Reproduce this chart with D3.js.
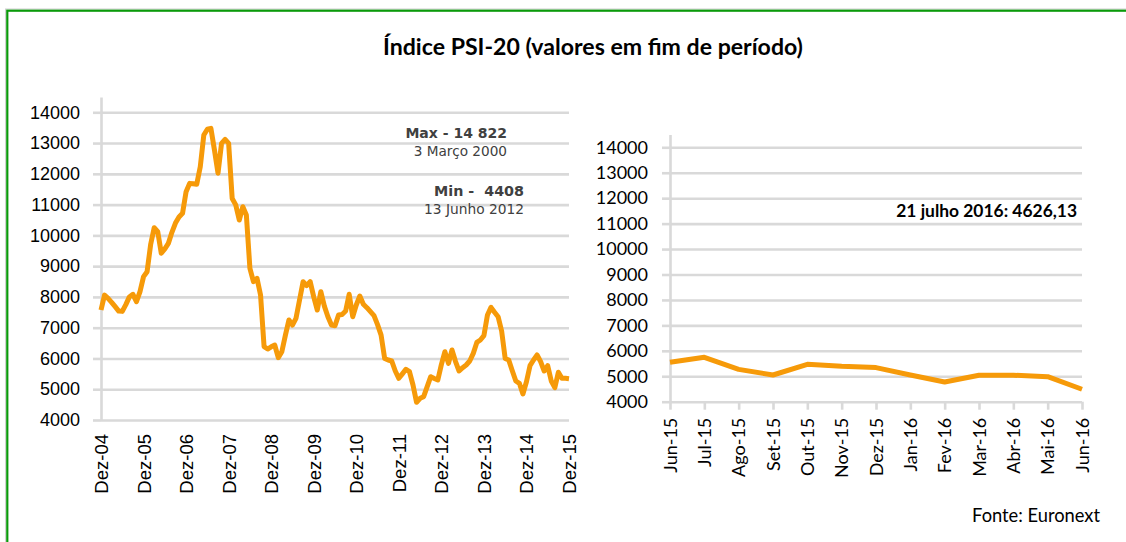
<!DOCTYPE html>
<html><head><meta charset="utf-8">
<script src="https://cdn.jsdelivr.net/npm/d3@7"></script>
<style>body{margin:0;background:#fff}svg{display:block}</style>
</head><body><svg id="c" width="1126" height="542"></svg>
<script>
// ---------- DATA ----------
// Left chart: monthly end-of-period values, Dez-04 .. Dez-15
const leftValues = [7575,8060,7955,7825,7683,7540,7530,7750,8000,8085,7845,8170,
  8660,8820,9700,10250,10120,9420,9560,9740,10100,10400,10600,10720,
  11420,11690,11680,11660,12230,13260,13450,13480,12775,12020,12990,13120,
  12990,11200,10990,10500,10930,10660,8930,8495,8605,8062,6385,6307,
  6380,6437,6025,6220,6750,7250,7087,7305,7900,8495,8365,8495,
  8000,7575,8170,7700,7357,7087,7065,7412,7430,7542,8085,7357,
  7737,8030,7760,7650,7520,7390,7100,6760,6000,5950,5917,5592,
  5355,5500,5647,5570,5137,4575,4705,4757,5082,5407,5350,5300,
  5800,6220,5840,6275,5900,5592,5700,5787,5917,6165,6522,6600,
  6740,7412,7660,7500,7357,6892,6000,5950,5600,5267,5192,4845,
  5245,5765,5950,6112,5895,5592,5765,5267,5050,5550,5355,5355,5340];
const leftTickLabels = ["Dez-04","Dez-05","Dez-06","Dez-07","Dez-08","Dez-09","Dez-10","Dez-11","Dez-12","Dez-13","Dez-14","Dez-15"];
// Right chart
const rightMonths = ["Jun-15","Jul-15","Ago-15","Set-15","Out-15","Nov-15","Dez-15","Jan-16","Fev-16","Mar-16","Abr-16","Mai-16","Jun-16"];
const rightValues = [5550,5745,5270,5050,5470,5390,5340,5050,4775,5040,5040,4985,4490];
const yTicks = [4000,5000,6000,7000,8000,9000,10000,11000,12000,13000,14000];
const yMax = 14500;
const titleText = "Índice PSI-20 (valores em fim de período)";
const maxLabel = "Max - 14 822", maxDate = "3 Março 2000";
const minLabel = "Min -  4408", minDate = "13 Junho 2012";
const lastLabel = "21 julho 2016: 4626,13";
const sourceText = "Fonte: Euronext";

// ---------- DRAW ----------
const svg = d3.select("#c");
const GRID = "#d9d9d9", LINE = "#f69a09", GREEN = "#0a9a0a";
const fmt = d3.format("d");
function fit(sel, w){ const l = sel.node().getComputedTextLength(); sel.attr("font-size", parseFloat(sel.attr("font-size"))*w/l); return sel; }

// frame
svg.append("rect").attr("x",5.5).attr("y",9).attr("width",1140).attr("height",560)
  .attr("fill","none").attr("stroke","#d0d0d0").attr("stroke-width",1);
svg.append("rect").attr("x",7.3).attr("y",10.7).attr("width",1140).attr("height",560)
  .attr("fill","none").attr("stroke",GREEN).attr("stroke-width",2.2);

// title
fit(svg.append("text").attr("x",593).attr("y",55).attr("text-anchor","middle")
  .attr("font-family","Lato, 'Open Sans', sans-serif").attr("font-weight","bold")
  .attr("font-size",20).attr("fill","#000").text(titleText), 420);

// ---- Left chart ----
const nL = leftValues.length - 1;
const xL = d3.scaleLinear().domain([0, nL]).range([101, 569]);
const yL = d3.scaleLinear().domain([4000, yMax]).range([420, 420 - 10.5*30.77]);

const gGridL = svg.append("g").attr("transform","translate(101,0)")
  .call(d3.axisLeft(yL).tickValues(yTicks).tickSize(-(569-101)).tickSizeOuter(0).tickFormat(""));
gGridL.selectAll("line").attr("stroke",GRID).attr("stroke-width",2.6);
gGridL.select(".domain").remove();

const gYL = svg.append("g").attr("transform","translate(101,0)")
  .call(d3.axisLeft(yL).tickValues(yTicks).tickFormat(fmt).tickSize(8).tickSizeOuter(0).tickPadding(13));
gYL.selectAll("line").attr("stroke",GRID).attr("stroke-width",2.6);
gYL.select(".domain").attr("stroke",GRID).attr("stroke-width",2.6);
gYL.selectAll("text").attr("font-family","'Liberation Sans', Arial, sans-serif").attr("font-size",18).attr("fill","#000");

const gXL = svg.append("g").attr("transform","translate(0,420)")
  .call(d3.axisBottom(xL).tickValues(d3.range(0, nL+1, 12)).tickSize(0)
    .tickFormat(i => leftTickLabels[i/12]));
gXL.select(".domain").remove();
gXL.selectAll("text").attr("transform","rotate(-90)").attr("text-anchor","end")
  .attr("x",-14).attr("y",0).attr("dy","0.35em")
  .attr("font-family","'Liberation Sans', Arial, sans-serif").attr("font-size",18.5).attr("fill","#000");

svg.append("path").datum(leftValues)
  .attr("d", d3.line().x((d,i)=>xL(i)).y(d=>yL(d)))
  .attr("fill","none").attr("stroke",LINE).attr("stroke-width",5)
  .attr("stroke-linejoin","round");

const annFont = "'DejaVu Sans', Verdana, sans-serif";
fit(svg.append("text").attr("x",507).attr("y",138.3).attr("text-anchor","end")
  .attr("font-family",annFont).attr("font-weight","bold").attr("font-size",14)
  .attr("fill","#404040").attr("xml:space","preserve").text(maxLabel), 101.7);
fit(svg.append("text").attr("x",507).attr("y",156).attr("text-anchor","end")
  .attr("font-family",annFont).attr("font-size",13.5)
  .attr("fill","#404040").text(maxDate), 93.4);
fit(svg.append("text").attr("x",524).attr("y",195.7).attr("text-anchor","end")
  .attr("font-family",annFont).attr("font-weight","bold").attr("font-size",14)
  .attr("fill","#404040").attr("xml:space","preserve").text(minLabel), 90);
fit(svg.append("text").attr("x",524).attr("y",214).attr("text-anchor","end")
  .attr("font-family",annFont).attr("font-size",13.5)
  .attr("fill","#404040").text(minDate), 100);

// ---- Right chart ----
const nR = rightValues.length - 1;
const xR = d3.scaleLinear().domain([0, nR]).range([670, 1082]);
const yR = d3.scaleLinear().domain([4000, yMax]).range([401.7, 401.7 - 10.5*25.44]);

const gGridR = svg.append("g").attr("transform","translate(670,0)")
  .call(d3.axisLeft(yR).tickValues(yTicks).tickSize(-(1082-670)).tickSizeOuter(0).tickFormat(""));
gGridR.selectAll("line").attr("stroke",GRID).attr("stroke-width",2.6);
gGridR.select(".domain").remove();

const gYR = svg.append("g").attr("transform","translate(670,0)")
  .call(d3.axisLeft(yR).tickValues(yTicks).tickFormat(fmt).tickSize(8).tickSizeOuter(0).tickPadding(14));
gYR.selectAll("line").attr("stroke",GRID).attr("stroke-width",2.6);
gYR.select(".domain").attr("stroke",GRID).attr("stroke-width",2.6);
gYR.selectAll("text").attr("font-family","Lato, 'Open Sans', sans-serif").attr("font-size",18).attr("fill","#000");

const gXR = svg.append("g").attr("transform","translate(0,401.7)")
  .call(d3.axisBottom(xR).tickValues(d3.range(0, nR+1)).tickSize(8).tickSizeOuter(0)
    .tickFormat(i => rightMonths[i]));
gXR.select(".domain").remove();
gXR.selectAll("line").attr("stroke",GRID).attr("stroke-width",2.6);
gXR.selectAll("text").attr("transform","rotate(-90)").attr("text-anchor","end")
  .attr("x",-16).attr("y",0).attr("dy","0.35em")
  .attr("font-family","Lato, 'Open Sans', sans-serif").attr("font-size",18).attr("fill","#000");

svg.append("path").datum(rightValues)
  .attr("d", d3.line().x((d,i)=>xR(i)).y(d=>yR(d)))
  .attr("fill","none").attr("stroke",LINE).attr("stroke-width",5)
  .attr("stroke-linejoin","round");

fit(svg.append("text").attr("x",1077).attr("y",217.3).attr("text-anchor","end")
  .attr("font-family","Lato, 'Open Sans', sans-serif").attr("font-weight","bold").attr("font-size",16)
  .attr("fill","#000").text(lastLabel), 181);

// source
fit(svg.append("text").attr("x",1100).attr("y",522).attr("text-anchor","end")
  .attr("font-family","Lato, 'Open Sans', sans-serif").attr("font-size",17)
  .attr("fill","#000").text(sourceText), 128);
</script>
</body></html>
